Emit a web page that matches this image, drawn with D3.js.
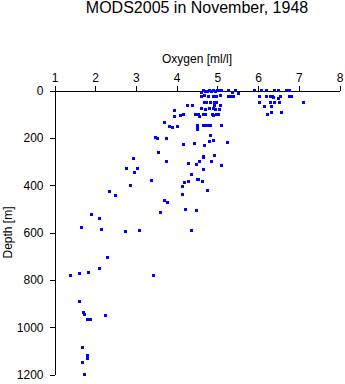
<!DOCTYPE html>
<html>
<head>
<meta charset="utf-8">
<script src="https://cdn.jsdelivr.net/npm/d3@7"></script>
<style>
  html, body { margin: 0; padding: 0; background: #fff; }
  svg { display: block; font-family: "Liberation Sans", Arial, Helvetica, sans-serif; }
</style>
</head>
<body>
<script>
// Station oxygen profiles, November 1948
const oxygen = [
  4.60, 4.66, 4.70, 4.75, 4.80, 4.85, 4.90, 4.95, 5.00, 5.05, 5.09, 5.27, 5.36, 5.44, 5.51,
  5.91, 6.09, 6.20, 6.40, 6.50, 6.70, 6.78,
  4.62, 4.68, 4.78, 4.91, 4.99, 5.07, 5.27, 5.33, 5.40,
  6.03, 6.20, 6.30, 6.35, 6.38, 6.50, 6.54, 6.77, 6.83,
  4.68, 4.74, 4.82, 4.93, 4.99, 6.04, 6.30, 6.40, 6.52, 7.11,
  4.27, 4.39, 4.93, 5.08, 6.16, 6.34,
  4.60, 4.72, 4.81, 4.91, 4.96, 5.05,
  3.95, 6.32, 6.58,
  4.09, 4.17, 4.46, 4.54, 4.66, 4.72, 4.87, 4.91, 4.99, 5.03, 6.22,
  4.56, 3.95, 3.69, 3.82, 3.90, 4.02,
  4.50, 4.66, 4.72, 4.77, 4.82, 5.11, 4.50, 4.50,
  3.49, 3.53, 3.76,
  4.82, 4.91, 4.81, 5.25, 4.17, 4.44, 4.68,
  3.55, 4.65, 4.65, 4.93, 2.94,
  3.74, 4.28, 4.48, 4.56, 4.86, 5.11,
  2.78, 3.04, 4.66, 2.97, 4.37,
  4.50, 4.53, 4.64, 4.29, 4.19, 3.38, 2.86, 4.14, 4.77, 2.35, 4.14, 2.50,
  3.70, 3.78, 4.22, 4.49, 3.61, 1.92, 2.10, 1.67,
  2.16, 3.09, 4.37, 2.74,
  2.30, 2.11, 1.61, 1.84, 1.40, 3.43,
  1.61, 1.71, 1.73, 2.25, 1.88, 1.82,
  1.69, 1.80, 1.81, 1.69, 1.74
];
const depth = [
  10, 0, 5, 3, 0, 3, 0, 3, 0, 2, 1, 0, 8, 0, 13,
  0, 0, 0, 0, 0, 0, 0,
  25, 22, 24, 26, 24, 23, 25, 26, 24,
  24, 24, 24, 24, 30, 32, 24, 24, 24,
  51, 51, 51, 51, 51, 51, 51, 51, 51, 51,
  62, 62, 62, 62, 67, 68,
  76, 80, 76, 76, 80, 80,
  83, 93, 93,
  106, 101, 101, 101, 101, 101, 101, 107, 101, 101, 101,
  111, 111, 135, 151, 156, 151,
  146, 146, 146, 146, 146, 148, 155, 163,
  198, 203, 203,
  192, 210, 217, 221, 227, 225, 231,
  262, 277, 284, 274, 287,
  301, 308, 311, 302, 302, 319,
  331, 329, 333, 346, 354,
  375, 375, 383, 383, 388, 381, 401, 405, 422, 426, 439, 443,
  466, 473, 502, 506, 516, 523, 539, 577,
  589, 591, 591, 597,
  706, 753, 772, 768, 781, 781,
  890, 938, 945, 952, 966, 969,
  1086, 1118, 1131, 1148, 1198
];
const oxygenTicks = [1, 2, 3, 4, 5, 6, 7, 8];
const depthTicks = [0, 200, 400, 600, 800, 1000, 1200];
const chartTitle = "MODS2005 in November, 1948";
const xLabel = "Oxygen [ml/l]";
const yLabel = "Depth [m]";

const W = 345, H = 384;
const plotL = 54.5, plotR = 339.5, plotT = 90.5, plotB = 374.5;

const svg = d3.select("body").append("svg")
  .attr("width", W).attr("height", H);

const x = d3.scaleLinear().domain([1, 8]).range([plotL, plotR]);
const y = d3.scaleLinear().domain([0, 1200]).range([plotT, plotB]);

// title
svg.append("text")
  .attr("x", (plotL + plotR) / 2).attr("y", 13)
  .attr("text-anchor", "middle")
  .attr("font-size", 16)
  .text(chartTitle);

// axis label on top
svg.append("text")
  .attr("x", (plotL + plotR) / 2).attr("y", 63)
  .attr("text-anchor", "middle")
  .attr("font-size", 12)
  .text(xLabel);

// vertical axis label
svg.append("text")
  .attr("transform", `translate(11.5,${(plotT + plotB) / 2}) rotate(-90)`)
  .attr("text-anchor", "middle")
  .attr("font-size", 12)
  .text(yLabel);

const xAxis = d3.axisTop(x).tickValues(oxygenTicks).tickSize(5).tickSizeOuter(0).tickPadding(4)
  .tickFormat(d3.format("d"));
const yAxis = d3.axisLeft(y).tickValues(depthTicks).tickSize(5).tickSizeOuter(0).tickPadding(6)
  .tickFormat(d3.format("d"));

const gx = svg.append("g").attr("transform", `translate(0,${plotT})`).call(xAxis);
const gy = svg.append("g").attr("transform", `translate(${plotL},0)`).call(yAxis);

[gx, gy].forEach(g => {
  g.selectAll("path, line").attr("stroke", "#000").attr("stroke-width", 1)
    .attr("shape-rendering", "crispEdges");
  g.selectAll("text").attr("font-size", 12).attr("fill", "#000")
    .attr("font-family", "'Liberation Sans', Arial, sans-serif");
});

// observations
const pts = oxygen.map((v, i) => ({ o: v, d: depth[i] }));
svg.append("g").selectAll("rect")
  .data(pts)
  .join("rect")
  .attr("x", d => Math.round(x(d.o) - 1.5))
  .attr("y", d => Math.round(y(d.d) - 1.5))
  .attr("width", 3)
  .attr("height", 3)
  .attr("fill", "#0000ff")
  .attr("shape-rendering", "crispEdges");
</script>
</body>
</html>
